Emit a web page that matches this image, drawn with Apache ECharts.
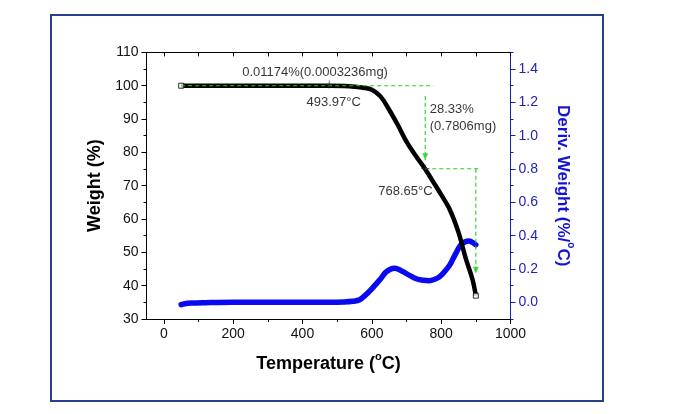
<!DOCTYPE html>
<html><head><meta charset="utf-8">
<script src="https://cdn.jsdelivr.net/npm/echarts@6/dist/echarts.min.js"></script>
<style>html,body{margin:0;padding:0;background:#fff}#c{width:681px;height:414px}</style>
</head><body><div id="c"></div>
<script>
// TGA weight curve (Temperature °C -> Weight %)
const tgaTemp   = [50, 100, 200, 300, 400, 480, 520, 550, 575, 600, 625, 650, 675, 700, 725, 750, 775, 800, 825, 850, 870, 890, 900];
const tgaWeight = [100, 100, 100, 100, 100, 100, 99.9, 99.7, 99.4, 98.8, 96.8, 92.8, 88.2, 83.2, 79.2, 75.6, 71.5, 67.3, 62.8, 56.0, 48.5, 42.0, 37.0];
// DTG curve (Temperature °C -> Deriv. Weight %/°C)
const dtgTemp  = [50, 60, 80, 120, 200, 300, 400, 480, 520, 545, 565, 580, 595, 610, 625, 640, 655, 665, 675, 690, 710, 730, 750, 765, 780, 795, 810, 825, 840, 855, 868, 880, 890, 900];
const dtgDeriv = [-0.014, -0.008, -0.004, -0.002, 0, 0, 0, 0, 0.002, 0.006, 0.015, 0.04, 0.07, 0.105, 0.14, 0.18, 0.2, 0.204, 0.2, 0.184, 0.16, 0.14, 0.132, 0.13, 0.137, 0.153, 0.185, 0.225, 0.285, 0.34, 0.362, 0.368, 0.36, 0.345];
// tick labels
const xTickLabels = [0, 200, 400, 600, 800, 1000];
const xMinorTicks = [100, 300, 500, 700, 900];
const xTopTicks = [0, 100, 200, 300, 400, 500, 600, 700, 800, 900, 1000];
const yRightLabels = [0, 0.2, 0.4, 0.6, 0.8, 1.0, 1.2, 1.4];
const yRightMinor = [-0.1, 0.1, 0.3, 0.5, 0.7, 0.9, 1.1, 1.3, 1.5];
// annotations (data coordinates)
const annotTexts = ['0.01174%(0.0003236mg)', '493.97°C', '28.33%\n(0.7806mg)', '768.65°C'];
const annotPos = [[226, 104], [490, 94.9], [767, 90.2], [697, 68.2]];
const annotAlign = ['left', 'center', 'left', 'center'];
const crossPts = [[477, 100.4], [754, 75.1]];
const endPts = [[50, 100], [900, 37]];
const guideLines = [
  [[50, 100], [778, 100]],
  [[754, 96.9], [754, 77.6]],
  [[754, 75.1], [910, 75.1]],
  [[900, 75.1], [900, 43.6]]
];
const arrowTips = [[754, 77.6], [900, 43.6]];

const FONT = '"Liberation Sans", Arial, sans-serif';
const BLUE_AX = '#1c1ca8';
const GREEN = '#22d022';
const chart = echarts.init(document.getElementById('c'), null, {renderer: 'canvas'});

const zip = (a, b) => a.map((v, i) => [v, b[i]]);

const guideSeries = guideLines.map((g, i) => ({
  name: 'guide' + i, type: 'line', xAxisIndex: 0, yAxisIndex: 0,
  data: g, showSymbol: false, symbol: 'none', silent: true, z: 5,
  lineStyle: {color: GREEN, type: [4, 3], width: 1.1}
}));

chart.setOption({
  animation: false,
  backgroundColor: '#fff',
  graphic: [{
    type: 'rect', shape: {x: 51, y: 15, width: 552, height: 386},
    style: {fill: 'none', stroke: '#2c3d8a', lineWidth: 2}, z: 0
  }],
  grid: {left: 146.5, right: 170.5, top: 52.4, bottom: 95},
  xAxis: [{
    type: 'value', min: -50, max: 1000, position: 'bottom',
    name: '{a|Temperature (}{s|o}{a|C)}', nameLocation: 'middle', nameGap: 32,
    nameTextStyle: {rich: {
      a: {fontSize: 18, fontWeight: 'bold', fontFamily: FONT, color: '#000', lineHeight: 22, verticalAlign: 'bottom'},
      s: {fontSize: 11, fontWeight: 'bold', fontFamily: FONT, color: '#000', lineHeight: 22, verticalAlign: 'top'}
    }},
    splitLine: {show: false},
    axisLine: {show: true, onZero: false, lineStyle: {color: '#000', width: 1}},
    axisTick: {show: true, inside: false, length: 5, customValues: xTickLabels, lineStyle: {color: '#000'}},
    axisLabel: {customValues: xTickLabels, fontSize: 14, fontFamily: FONT, color: '#111', margin: 8,
      formatter: v => String(v)}
  }, {
    type: 'value', min: -50, max: 1000, position: 'bottom',
    splitLine: {show: false},
    axisLine: {show: false, onZero: false},
    axisTick: {show: true, length: 3, customValues: xMinorTicks, lineStyle: {color: '#000'}},
    axisLabel: {show: false}
  }, {
    type: 'value', min: -50, max: 1000, position: 'top',
    splitLine: {show: false},
    axisLine: {show: true, onZero: false, lineStyle: {color: '#000', width: 1}},
    axisTick: {show: true, inside: true, length: 4, customValues: xTopTicks, lineStyle: {color: '#000'}},
    axisLabel: {show: false}
  }],
  yAxis: [{
    type: 'value', min: 30, max: 110, interval: 10, position: 'left',
    name: 'Weight (%)', nameLocation: 'middle', nameGap: 42, nameRotate: 90,
    nameTextStyle: {fontSize: 18, fontWeight: 'bold', fontFamily: FONT, color: '#000'},
    splitLine: {show: false},
    axisLine: {show: true, onZero: false, lineStyle: {color: '#000', width: 1}},
    axisTick: {show: true, length: 5, lineStyle: {color: '#000'}},
    minorTick: {show: true, splitNumber: 2, length: 3, lineStyle: {color: '#000'}},
    axisLabel: {fontSize: 14, fontFamily: FONT, color: '#111', margin: 8}
  }, {
    type: 'value', min: -0.1, max: 1.5, position: 'right',
    name: '{a|Deriv. Weight (%/}{s|o}{a|C)}', nameLocation: 'middle', nameGap: 44, nameRotate: -90,
    nameTextStyle: {rich: {
      a: {fontSize: 17, fontWeight: 'bold', fontFamily: FONT, color: '#1414d2', lineHeight: 21, verticalAlign: 'bottom'},
      s: {fontSize: 10, fontWeight: 'bold', fontFamily: FONT, color: '#1414d2', lineHeight: 21, verticalAlign: 'top'}
    }},
    splitLine: {show: false},
    axisLine: {show: true, onZero: false, lineStyle: {color: BLUE_AX, width: 1}},
    axisTick: {show: true, length: 5, customValues: yRightLabels, lineStyle: {color: BLUE_AX}},
    axisLabel: {customValues: yRightLabels, fontSize: 14, fontFamily: FONT, color: '#2323b4', margin: 8,
      formatter: v => v.toFixed(1)}
  }, {
    type: 'value', min: -0.1, max: 1.5, position: 'right',
    splitLine: {show: false},
    axisLine: {show: false, onZero: false},
    axisTick: {show: true, length: 3, customValues: yRightMinor, lineStyle: {color: BLUE_AX}},
    axisLabel: {show: false}
  }],
  series: [{
    name: 'DTG', type: 'line', xAxisIndex: 0, yAxisIndex: 1,
    data: zip(dtgTemp, dtgDeriv), showSymbol: false, symbol: 'none', smooth: 0.35,
    lineStyle: {color: '#0a0af0', width: 5.5, cap: 'round', join: 'round'}, z: 2
  }, {
    name: 'TGA', type: 'line', xAxisIndex: 0, yAxisIndex: 0,
    data: zip(tgaTemp, tgaWeight), showSymbol: false, symbol: 'none', smooth: 0.35,
    lineStyle: {color: '#000', width: 4.5, cap: 'butt', join: 'round'}, z: 3
  }, {
    name: 'ends', type: 'scatter', xAxisIndex: 0, yAxisIndex: 0,
    data: endPts, symbol: 'rect', symbolSize: 5,
    itemStyle: {color: '#fff', borderColor: '#000', borderWidth: 1}, z: 4, silent: true
  }].concat(guideSeries).concat([{
    name: 'arrows', type: 'scatter', xAxisIndex: 0, yAxisIndex: 0,
    data: arrowTips, symbol: 'triangle', symbolRotate: 180, symbolSize: [6, 7], symbolOffset: [0, -3.5],
    itemStyle: {color: GREEN}, z: 6, silent: true
  }, {
    name: 'cross', type: 'scatter', xAxisIndex: 0, yAxisIndex: 0,
    data: crossPts, symbol: 'path://M4.5,0H5.5V4.5H10V5.5H5.5V10H4.5V5.5H0V4.5H4.5Z', symbolSize: 8,
    itemStyle: {color: '#222'}, z: 6, silent: true
  }, {
    name: 'annot', type: 'scatter', xAxisIndex: 0, yAxisIndex: 0, z: 7, silent: true,
    symbolSize: 0,
    data: annotPos.map((p, i) => ({
      value: p,
      label: {show: true, position: 'inside', formatter: annotTexts[i], align: annotAlign[i],
        verticalAlign: 'middle', fontSize: 13, fontFamily: FONT, color: '#000',
        textBorderWidth: 0, textShadowBlur: 0, lineHeight: 17}
    }))
  }])
});
</script></body></html>
